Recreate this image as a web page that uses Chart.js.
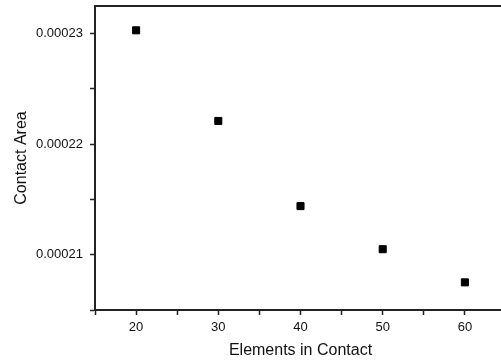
<!DOCTYPE html>
<html>
<head>
<meta charset="utf-8">
<script src="https://cdn.jsdelivr.net/npm/chart.js@4/dist/chart.umd.min.js"></script>
<style>
  html, body { margin: 0; padding: 0; background: #fff; overflow: hidden; }
  #chart { display: block; }
</style>
</head>
<body>
<canvas id="chart" width="512" height="362"></canvas>
<script>
// Values
const elementsInContact = [20, 30, 40, 50, 60];
const contactArea = [0.0002303, 0.0002221, 0.0002144, 0.0002105, 0.0002075];

const xTitle = "Elements in Contact";
const yTitle = "Contact Area";

const axisColor = "#222";
const textColor = "#111";
const tickFont = { family: "'Liberation Sans', Arial, sans-serif", size: 13 };
const titleFont = { family: "'Liberation Sans', Arial, sans-serif", size: 16 };

const yMin = 0.000205;
const yMax = 0.0002325;

const points = elementsInContact.map((x, i) => ({ x, y: contactArea[i] }));

// keep the plot box fixed, no label overhang padding
const fixX = (h) => (s) => { s.height = h; s.paddingLeft = 0; s.paddingRight = 0; };
const fixY = (w) => (s) => { s.width = w; s.paddingTop = 0; s.paddingBottom = 0; };

new Chart(document.getElementById("chart"), {
  type: "scatter",
  data: {
    datasets: [{
      data: points,
      pointStyle: "rect",
      pointRadius: 5,
      pointHoverRadius: 5,
      backgroundColor: "#000",
      borderColor: "#000",
      borderWidth: 1,
    }],
  },
  options: {
    responsive: false,
    animation: false,
    layout: { padding: { left: 0, right: 4, top: 4, bottom: 0 } },
    plugins: { legend: { display: false }, tooltip: { enabled: false } },
    scales: {
      x: {
        type: "linear",
        position: "bottom",
        min: 15,
        max: 65,
        afterFit: fixX(52),
        border: { display: true, color: axisColor, width: 2 },
        grid: { drawOnChartArea: false, drawTicks: true, tickLength: 5, tickColor: axisColor, tickWidth: 1.5 },
        ticks: {
          stepSize: 5,
          padding: 5,
          color: textColor,
          font: tickFont,
          maxRotation: 0,
          callback: (v) => (Math.round(v) % 10 === 0 ? String(v) : ""),
        },
        title: { display: true, text: xTitle, color: textColor, font: titleFont, padding: { top: 0, bottom: 2 } },
      },
      y: {
        type: "linear",
        position: "left",
        min: yMin,
        max: yMax,
        afterFit: fixY(95),
        border: { display: true, color: axisColor, width: 2 },
        grid: {
          drawOnChartArea: false,
          drawTicks: true,
          tickLength: 5,
          tickWidth: 1.5,
          tickColor: (ctx) => (ctx.tick && ctx.tick.value > yMax - 1e-9 ? "rgba(0,0,0,0)" : axisColor),
        },
        ticks: {
          stepSize: 0.000005,
          padding: 7,
          color: textColor,
          font: tickFont,
          callback: (v) => (Math.round(v * 1e6) % 10 === 0 ? v.toFixed(5) : ""),
        },
        title: { display: true, text: yTitle, color: textColor, font: titleFont, padding: { top: 12, bottom: 0 } },
      },
      xTop: {
        type: "linear",
        position: "top",
        min: 15,
        max: 65,
        afterFit: fixX(0),
        border: { display: true, color: axisColor, width: 2 },
        grid: { drawOnChartArea: false, drawTicks: false },
        ticks: { display: false },
      },
      yRight: {
        type: "linear",
        position: "right",
        min: yMin,
        max: yMax,
        afterFit: fixY(0),
        border: { display: true, color: axisColor, width: 2 },
        grid: { drawOnChartArea: false, drawTicks: false },
        ticks: { display: false },
      },
    },
  },
});
</script>
</body>
</html>
